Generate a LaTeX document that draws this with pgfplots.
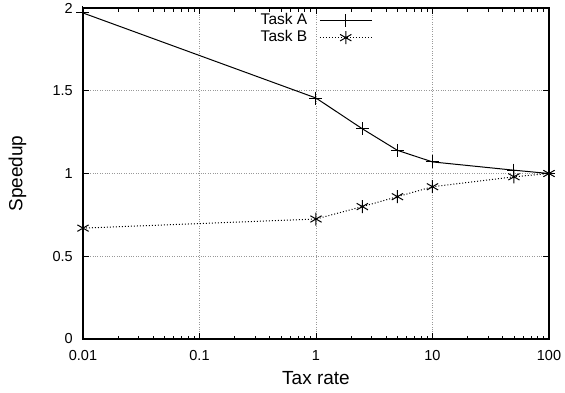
\documentclass[border=0pt]{standalone}
\usepackage{fontspec}
\setmainfont{Liberation Sans}
\usepackage{pgfplots}
\pgfplotsset{compat=1.18}
\begin{document}
\begin{tikzpicture}
\begin{axis}[
  name=ax,
  scale only axis,
  width=466pt, height=331pt,
  xmode=log, xmin=0.01, xmax=100,
  ymin=0, ymax=2,
  ytick={0,0.5,1,1.5,2},
  xtick={0.01,0.1,1,10,100},
  xticklabels={0.01,0.1,1,10,100},
  yticklabels={0,0.5,1,1.5,2},
  /pgf/number format/assume math mode=true,
  tick label style={font=\fontsize{14.5}{14.5}\selectfont, black},
  xticklabel style={anchor=center, yshift=-17pt},
  yticklabel style={anchor=east, inner sep=0pt, xshift=-10pt},
  label style={font=\fontsize{19}{19}\selectfont},
  xlabel={Tax rate}, ylabel={Speedup},
  xlabel style={at={(axis description cs:0.5,-0.119)}, anchor=center},
  ylabel style={at={(axis description cs:-0.1406,0.5)}, anchor=center},
  grid=major,
  major grid style={dotted, gray!80, line width=0.7pt},
  axis line style={line width=1.2pt},
  tick style={black, line width=0.7pt},
  major tick length=6pt, minor tick length=3.5pt,
  tick align=inside,
  xtick pos=both, ytick pos=both,
  legend style={draw=none, fill=none, at={(0.5,0.988)}, anchor=north,
    font=\fontsize{15.5}{15.5}\selectfont, row sep=0pt, column sep=0pt, inner sep=0pt,
    nodes={inner sep=1pt, text height=11.5pt, text depth=3.5pt}},
  legend plot pos=right,
  legend cell align=right,
  legend image code/.code={\path (0pt,0pt); \draw[mark repeat=2,mark phase=2] plot coordinates {(11pt,0pt)(37pt,0pt)(63pt,0pt)};},
]
\addplot[black, line width=1pt, mark=+, mark size=6.5pt, mark options={solid, line width=1pt}] coordinates {
  (0.01,1.97) (1,1.456) (2.5,1.27) (5,1.14) (10,1.07) (50,1.02) (100,1.0)
};
\addlegendentry{Task A}
\addplot[black, line width=1pt, dotted, mark=asterisk, mark size=6.5pt, mark options={solid, line width=1pt}] coordinates {
  (0.01,0.67) (1,0.725) (2.5,0.80) (5,0.86) (10,0.92) (50,0.98) (100,1.0)
};
\addlegendentry{Task B}
\end{axis}
\pgfresetboundingbox
\path ([shift={(-83pt,-53pt)}]ax.south west) rectangle ([shift={(16pt,8pt)}]ax.north east);
\end{tikzpicture}
\end{document}
